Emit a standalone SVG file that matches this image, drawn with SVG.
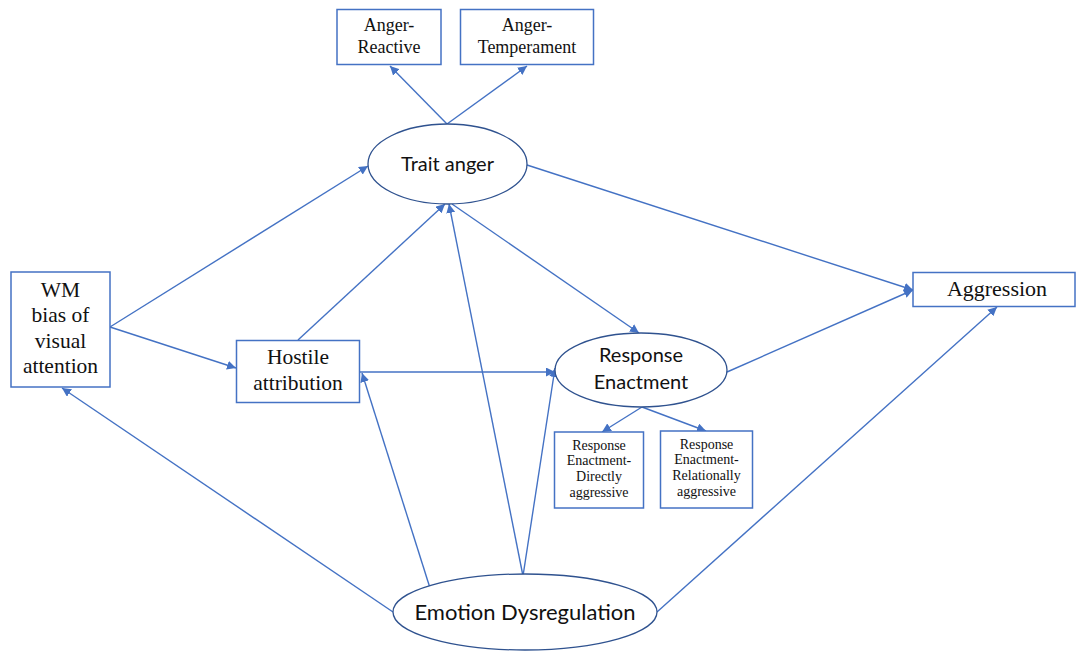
<svg xmlns="http://www.w3.org/2000/svg" width="1076" height="653" viewBox="0 0 1076 653">
<style>
.box{fill:#fff;stroke:#4472C4;stroke-width:1.5}
.ell{fill:#fff;stroke:#2F528F;stroke-width:1.3}
.ser{font-family:"Liberation Serif","Times New Roman",serif;fill:#111;text-anchor:middle}
.san{font-family:Lato,"Open Sans","Liberation Sans",sans-serif;fill:#111;text-anchor:middle}
.c{fill:none;stroke:#4472C4;stroke-width:1.4;marker-end:url(#ah)}
</style>
<defs>
<marker id="ah" viewBox="0 0 10 10" refX="10" refY="5" markerWidth="9" markerHeight="9" markerUnits="userSpaceOnUse" orient="auto">
<path d="M0,0 L10,5 L0,10 Z" fill="#4472C4"/>
</marker>
</defs>
<rect width="1076" height="653" fill="#fff"/>
<g id="connectors">
<line class="c" x1="447" y1="124" x2="390" y2="66"/>
<line class="c" x1="447" y1="124" x2="527" y2="66"/>
<line class="c" x1="110" y1="327" x2="368" y2="166"/>
<line class="c" x1="110" y1="327" x2="236" y2="368"/>
<line class="c" x1="393" y1="612" x2="62" y2="388"/>
<line class="c" x1="298" y1="340" x2="445" y2="204"/>
<line class="c" x1="430" y1="588" x2="362" y2="373"/>
<line class="c" x1="523" y1="576" x2="449" y2="204"/>
<line class="c" x1="523" y1="576" x2="555" y2="368"/>
<line class="c" x1="360" y1="372" x2="555" y2="372"/>
<line class="c" x1="452" y1="204" x2="639" y2="333"/>
<line class="c" x1="527" y1="165" x2="913" y2="290"/>
<line class="c" x1="727" y1="372" x2="913" y2="290"/>
<line class="c" x1="657" y1="612" x2="997" y2="307"/>
<line class="c" x1="642" y1="407" x2="602" y2="432"/>
<line class="c" x1="642" y1="407" x2="706" y2="431"/>
</g>
<g id="anger-reactive">
<rect class="box" x="337" y="9.5" width="104" height="55"/>
<text class="ser" x="389" y="31" font-size="18">Anger-</text>
<text class="ser" x="389" y="53" font-size="18">Reactive</text>
</g>
<g id="anger-temperament">
<rect class="box" x="460.5" y="9.5" width="133" height="55"/>
<text class="ser" x="527" y="31" font-size="18">Anger-</text>
<text class="ser" x="527" y="53" font-size="18">Temperament</text>
</g>
<g id="trait-anger">
<ellipse class="ell" cx="447.5" cy="164" rx="79.5" ry="40"/>
<text class="san" x="447.5" y="171" font-size="20">Trait anger</text>
</g>
<g id="wm-bias">
<rect class="box" x="11" y="272" width="99" height="115"/>
<text class="ser" x="60.5" y="297" font-size="21.5">WM</text>
<text class="ser" x="60.5" y="322" font-size="21.5">bias of</text>
<text class="ser" x="60.5" y="348" font-size="21.5">visual</text>
<text class="ser" x="60.5" y="373" font-size="21.5">attention</text>
</g>
<g id="hostile-attribution">
<rect class="box" x="236.5" y="340.5" width="123" height="62"/>
<text class="ser" x="298" y="364" font-size="21.5">Hostile</text>
<text class="ser" x="298" y="390" font-size="21.5">attribution</text>
</g>
<g id="response-enactment">
<ellipse class="ell" cx="641" cy="370" rx="86" ry="37"/>
<text class="san" x="641" y="362" font-size="20">Response</text>
<text class="san" x="641" y="389" font-size="20">Enactment</text>
</g>
<g id="re-direct">
<rect class="box" x="554.5" y="432" width="89" height="76"/>
<text class="ser" x="599" y="450" font-size="14">Response</text>
<text class="ser" x="599" y="465" font-size="14">Enactment-</text>
<text class="ser" x="599" y="481" font-size="14">Directly</text>
<text class="ser" x="599" y="497" font-size="14">aggressive</text>
</g>
<g id="re-relational">
<rect class="box" x="660.5" y="431" width="92" height="77"/>
<text class="ser" x="706.5" y="449" font-size="14">Response</text>
<text class="ser" x="706.5" y="464" font-size="14">Enactment-</text>
<text class="ser" x="706.5" y="480" font-size="14">Relationally</text>
<text class="ser" x="706.5" y="496" font-size="14">aggressive</text>
</g>
<g id="aggression">
<rect class="box" x="913" y="272.5" width="162" height="34"/>
<text class="ser" x="997" y="296" font-size="22">Aggression</text>
</g>
<g id="emotion-dysregulation">
<ellipse class="ell" cx="525" cy="612" rx="132" ry="38"/>
<text class="san" x="525" y="620" font-size="22">Emotion Dysregulation</text>
</g>
</svg>
